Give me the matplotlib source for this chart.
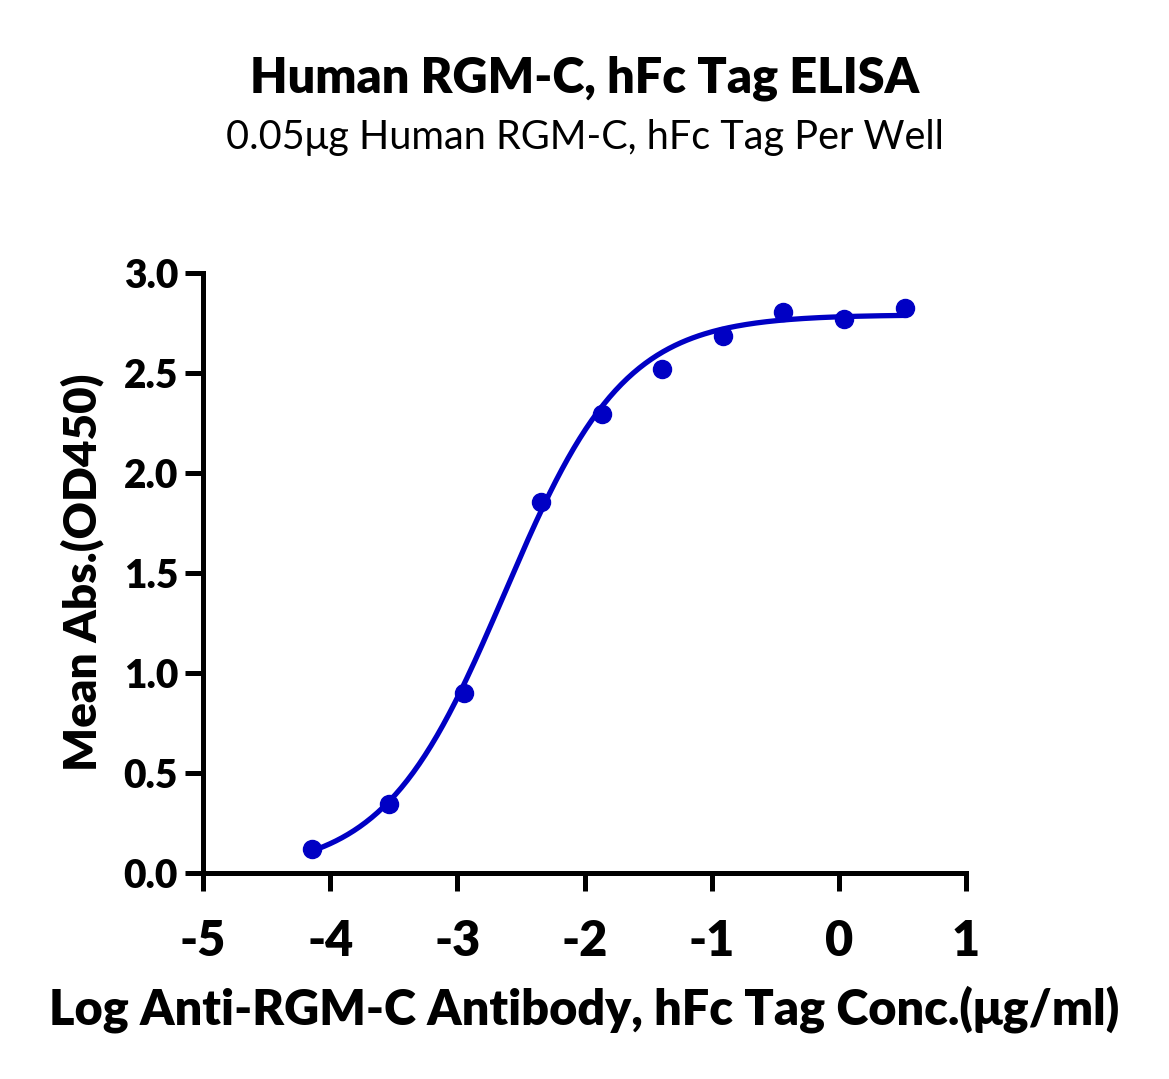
import numpy as np
import matplotlib
matplotlib.use('Agg')
import matplotlib.pyplot as plt

# log10 concentration (ug/ml) and mean OD450
log_conc = [-4.142, -3.540, -2.950, -2.343, -1.866, -1.392, -0.914, -0.440, 0.040, 0.520]
mean_abs = [0.120, 0.345, 0.897, 1.855, 2.293, 2.518, 2.685, 2.805, 2.768, 2.825]

# 4PL fit parameters (bottom, top, logEC50, hill)
fit_bottom = 0.0
fit_top = 2.79
fit_logec50 = -2.63
fit_hill = 0.92

x_ticks = [-5, -4, -3, -2, -1, 0, 1]
y_ticks = [0.0, 0.5, 1.0, 1.5, 2.0, 2.5, 3.0]

blue = '#0000C4'
font = 'Lato'
heavy = 'heavy'

fig = plt.figure(figsize=(11.69, 10.79), dpi=100)
ax = fig.add_axes([203 / 1169, 1 - 872.7 / 1079, (966 - 203) / 1169, 600 / 1079])

xs = np.linspace(log_conc[0], log_conc[-1], 300)
ys = fit_bottom + (fit_top - fit_bottom) / (1 + 10 ** ((fit_logec50 - xs) * fit_hill))
ax.plot(xs, ys, color=blue, lw=3.8, zorder=3, solid_capstyle='round')
ax.plot(log_conc, mean_abs, 'o', color=blue, ms=13, zorder=4)

ax.set_xlim(-5, 1)
ax.set_ylim(0, 3.0)
ax.set_xticks(x_ticks)
ax.set_xticklabels([str(t) for t in x_ticks], fontfamily=font, fontweight=heavy, fontsize=35)
ax.set_yticks(y_ticks)
ax.set_yticklabels(['%.1f' % t for t in y_ticks], fontfamily=font, fontweight=heavy, fontsize=28)

for s in ['top', 'right']:
    ax.spines[s].set_visible(False)
for s in ['left', 'bottom']:
    ax.spines[s].set_linewidth(3.6)
    ax.spines[s].set_capstyle('projecting')
ax.tick_params(axis='both', direction='out', length=13, width=3.6, colors='black')
ax.tick_params(axis='x', pad=20)
ax.tick_params(axis='y', pad=5)

ax.set_xlabel('Log Anti-RGM-C Antibody, hFc Tag Conc.(\u03bcg/ml)', fontfamily=font,
              fontweight=heavy, fontsize=35, labelpad=16)
ax.set_ylabel('Mean Abs.(OD450)', fontfamily=font, fontweight=heavy, fontsize=33, labelpad=14)

fig.text(0.5, 1 - 78 / 1079, 'Human RGM-C, hFc Tag ELISA', ha='center', va='center',
         fontfamily=font, fontweight=heavy, fontsize=35)
fig.text(0.5, 1 - 137 / 1079, '0.05\u03bcg Human RGM-C, hFc Tag Per Well', ha='center', va='center',
         fontfamily=font, fontsize=28.5)

fig.savefig('out.png', dpi=100)
